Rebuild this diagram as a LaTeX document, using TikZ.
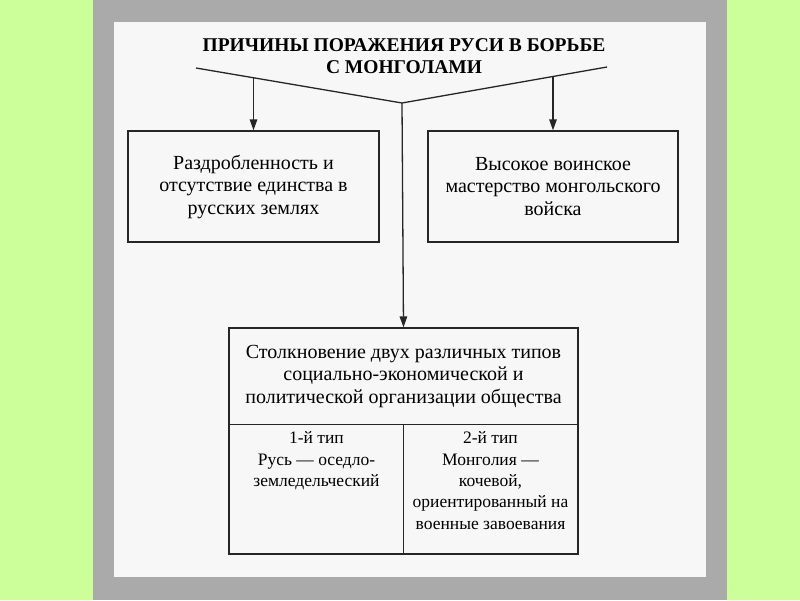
\documentclass[tikz,border=0pt]{standalone}
\usepackage{fontspec}
\setmainfont{Liberation Serif}
\usetikzlibrary{arrows.meta,positioning}
\definecolor{bggreen}{HTML}{CCFF99}
\definecolor{panelgray}{HTML}{AAAAAA}
\definecolor{sheet}{HTML}{F7F7F7}
\definecolor{ink}{HTML}{262626}

\tikzset{
  box/.style={draw=ink, line width=1.3pt, rectangle, inner sep=0pt, align=center,
    font=\fontsize{20}{22.5}\selectfont},
  txt/.style={inner sep=0pt, align=center, font=\fontsize{17.5}{21.3}\selectfont},
  link/.style={draw=ink, line width=1.3pt},
  arr/.style={link, -{Triangle[length=11pt,width=7.5pt]}}
}

\begin{document}
\begin{tikzpicture}[x=1pt,y=-1pt]
% background
\fill[bggreen] (0,0) rectangle (800,600);
\fill[panelgray] (93,0) rectangle (727,600);
\fill[sheet] (114,22) rectangle (706,577);
\useasboundingbox (0,0) rectangle (800,600);

% title
\node[txt, font=\fontsize{19.5}{21.5}\selectfont\bfseries] (title) at (404,56)
  {ПРИЧИНЫ ПОРАЖЕНИЯ РУСИ В БОРЬБЕ\\С МОНГОЛАМИ};

\coordinate (lend) at (196,68);
\coordinate (vtip) at (402,103);
\coordinate (rend) at (607,67);
\coordinate (la) at (253.5,78);
\coordinate (ra) at (553,76);

% boxes
\node[box, minimum width=251, minimum height=111] (frag) at (253.5,186.5)
  {Раздробленность и\\отсутствие единства в\\русских землях};
\node[box, minimum width=250, minimum height=111] (mast) at (553,186.5)
  {Высокое воинское\\мастерство монгольского\\войска};

\node[box, minimum width=349, minimum height=226] (outer) at (403.5,441) {};
\node[box, draw=none, minimum width=349, minimum height=96, anchor=north] (clash) at (outer.north)
  {Столкновение двух различных типов\\социально-экономической и\\политической организации общества};
\draw[link] (clash.south west) -- (clash.south east);
\draw[link] (clash.south) -- (outer.south);

\node[txt, below=7pt of clash.south, xshift=-87pt] (type1) {1-й тип\\Русь — оседло-\\земледельческий};
\node[txt, below=7pt of clash.south, xshift=87pt] (type2)
  {2-й тип\\Монголия —\\кочевой,\\ориентированный на\\военные завоевания};

% connectors
\draw[link] (lend) -- (vtip) -- (rend);
\draw[arr] (la) -- (frag.north);
\draw[arr] (ra) -- (mast.north);
\draw[arr] (vtip) -- (outer.north);
\end{tikzpicture}
\end{document}
